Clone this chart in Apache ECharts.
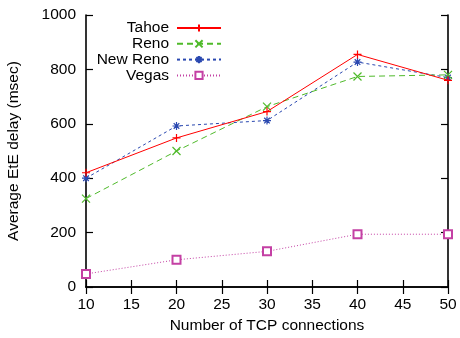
<!DOCTYPE html>
<html><head><meta charset="utf-8">
<script src="https://cdn.jsdelivr.net/npm/echarts@6/dist/echarts.min.js"></script>
<style>html,body{margin:0;padding:0;background:#fff}#c{width:460px;height:338px}</style>
</head><body><div id="c"></div>
<script>
var categories = [10, 20, 30, 40, 50];
var tahoe = [420, 548, 645, 855, 760];
var reno = [325, 500, 663, 774, 780];
var newReno = [400, 592, 612, 827, 770];
var vegas = [48, 100, 131, 194, 194];
var xTicks = [10, 15, 20, 25, 30, 35, 40, 45, 50];
var yTicks = [0, 200, 400, 600, 800, 1000];

var font = 'Liberation Sans';
var fs = 15.5;
var plus = 'path://M0,5L10,5M5,0L5,10';
var cross = 'path://M0,0L10,10M0,10L10,0';
var star = 'path://M0,5L10,5M5,0L5,10M1.5,1.5L8.5,8.5M1.5,8.5L8.5,1.5';

function pairs(arr){ return categories.map(function(c,i){ return [c, arr[i]]; }); }

var names = ['Tahoe','Reno','New Reno','Vegas'];
var colors = ['#ff0000','#4fba2a','#2a48b0','#c440a4'];
var syms = [plus, cross, star, 'emptyRect'];
var types = ['solid',[6,4],[3,3],[1,2]];
var datas = [tahoe, reno, newReno, vegas];

var series = names.map(function(n,i){
  return {
    name: n, type: 'line', data: pairs(datas[i]),
    color: colors[i],
    symbol: syms[i], symbolSize: 8,
    showAllSymbol: true,
    lineStyle: {color: colors[i], width: 1, type: types[i]},
    itemStyle: {color: colors[i], borderColor: colors[i], borderWidth: 1.2},
    emphasis: {disabled: true}, animation: false, z: 10 - i
  };
});

var legends = names.map(function(n,i){
  return {
    data: [n], orient: 'vertical', align: 'right',
    right: 238, top: 20 + i*15.8,
    itemWidth: 44, itemHeight: 9, itemGap: 0,
    padding: 0,
    textStyle: {fontFamily: font, fontSize: fs, color: '#000', padding: [0, 3, 0, 0]},
    selectedMode: false
  };
});

var axisLine = {show: true, lineStyle: {color: '#000', width: 1.6}};
var tick = {show: true, inside: true, length: 7, lineStyle: {color: '#000', width: 1.2}};

var option = {
  animation: false,
  backgroundColor: '#fff',
  legend: legends,
  grid: {left: 86, right: 12, top: 15, bottom: 51, containLabel: false, outerBoundsMode: 'none'},
  xAxis: [{
    type: 'value', min: 10, max: 50, interval: 5,
    name: 'Number of TCP connections', nameLocation: 'middle', nameGap: 31,
    nameTextStyle: {fontFamily: font, fontSize: fs, color: '#000'},
    axisLine: axisLine, axisTick: tick, splitLine: {show: false},
    axisLabel: {fontFamily: font, fontSize: fs, color: '#000', margin: 10,
      formatter: function(v){ return xTicks.indexOf(v) >= 0 ? String(v) : ''; }}
  },{
    type: 'value', min: 10, max: 50, interval: 5, position: 'top',
    axisLine: axisLine, axisTick: tick, splitLine: {show: false}, axisLabel: {show: false}
  }],
  yAxis: [{
    type: 'value', min: 0, max: 1000, interval: 200,
    name: 'Average EtE delay (msec)', nameLocation: 'middle', nameGap: 64,
    nameTextStyle: {fontFamily: font, fontSize: fs, color: '#000'},
    axisLine: axisLine, axisTick: tick, splitLine: {show: false},
    axisLabel: {fontFamily: font, fontSize: fs, color: '#000', margin: 10,
      formatter: function(v){ return yTicks.indexOf(v) >= 0 ? String(v) : ''; }}
  },{
    type: 'value', min: 0, max: 1000, interval: 200, position: 'right',
    axisLine: axisLine, axisTick: tick, splitLine: {show: false}, axisLabel: {show: false}
  }],
  series: series
};
var chart = echarts.init(document.getElementById('c'), null, {renderer: 'canvas'});
chart.setOption(option);
</script></body></html>
